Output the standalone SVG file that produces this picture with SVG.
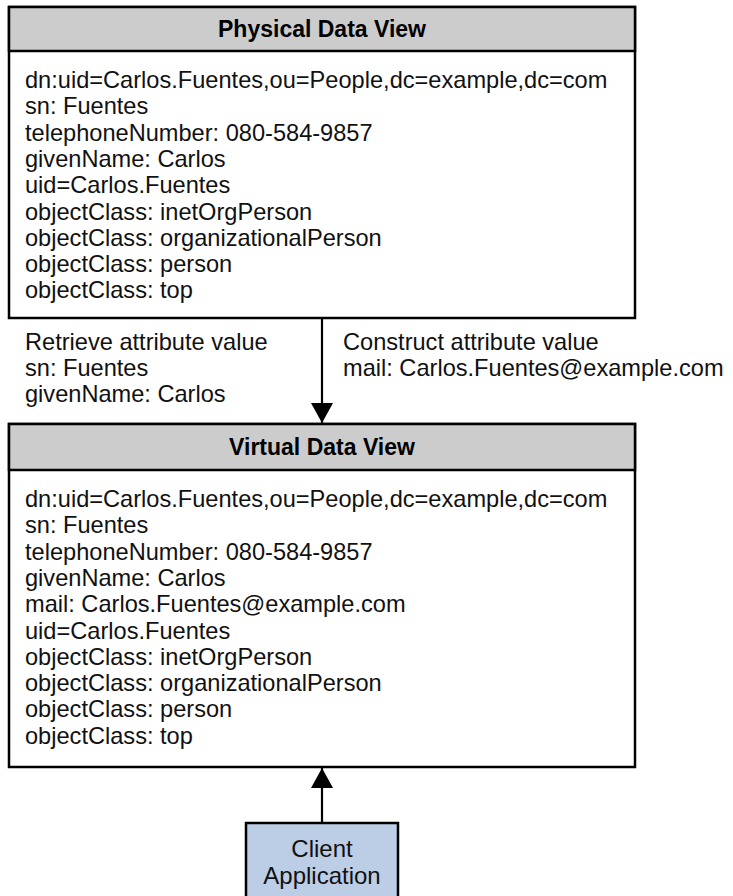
<svg xmlns="http://www.w3.org/2000/svg" width="733" height="896" viewBox="0 0 733 896">
<defs>
<style>
.box{fill:#fff;stroke:#000;stroke-width:2.5}
.hdr{fill:#cccccc;stroke:#000;stroke-width:2.5}
.client{fill:#bccde6;stroke:#000;stroke-width:2.5}
.t{font-family:"Liberation Sans",Arial,Helvetica,sans-serif;font-size:23.6px;fill:#111}
.h{font-family:"Liberation Sans",Arial,Helvetica,sans-serif;font-size:23px;font-weight:bold;fill:#000;text-anchor:middle}
.c{font-family:"Liberation Sans",Arial,Helvetica,sans-serif;font-size:24px;fill:#111;text-anchor:middle}
.conn{stroke:#000;stroke-width:2.2;fill:none}
</style>
<marker id="arr" viewBox="0 0 20 22" refX="20" refY="11" markerWidth="20" markerHeight="22" markerUnits="userSpaceOnUse" orient="auto">
<path d="M0,0 L20,11 L0,22 Z" fill="#000"/>
</marker>
</defs>
<rect width="733" height="896" fill="#fff"/>

<g id="physical">
<rect class="box" x="9" y="7" width="626" height="311"/>
<rect class="hdr" x="9" y="7" width="626" height="44"/>
<text class="h" x="322" y="37">Physical Data View</text>
<text class="t" x="25" y="88">dn:uid=Carlos.Fuentes,ou=People,dc=example,dc=com</text>
<text class="t" x="25" y="114.3">sn: Fuentes</text>
<text class="t" x="25" y="140.6">telephoneNumber: 080-584-9857</text>
<text class="t" x="25" y="166.9">givenName: Carlos</text>
<text class="t" x="25" y="193.2">uid=Carlos.Fuentes</text>
<text class="t" x="25" y="219.5">objectClass: inetOrgPerson</text>
<text class="t" x="25" y="245.8">objectClass: organizationalPerson</text>
<text class="t" x="25" y="272.1">objectClass: person</text>
<text class="t" x="25" y="298.4">objectClass: top</text>
</g>

<g id="labels">
<text class="t" x="25" y="350">Retrieve attribute value</text>
<text class="t" x="25" y="376">sn: Fuentes</text>
<text class="t" x="25" y="402">givenName: Carlos</text>
<text class="t" x="343" y="350">Construct attribute value</text>
<text class="t" x="343" y="376">mail: Carlos.Fuentes@example.com</text>
</g>

<g id="virtual">
<rect class="box" x="9" y="424" width="626" height="343"/>
<rect class="hdr" x="9" y="424" width="626" height="46"/>
<text class="h" x="322" y="455">Virtual Data View</text>
<text class="t" x="25" y="507">dn:uid=Carlos.Fuentes,ou=People,dc=example,dc=com</text>
<text class="t" x="25" y="533.3">sn: Fuentes</text>
<text class="t" x="25" y="559.6">telephoneNumber: 080-584-9857</text>
<text class="t" x="25" y="585.9">givenName: Carlos</text>
<text class="t" x="25" y="612.2">mail: Carlos.Fuentes@example.com</text>
<text class="t" x="25" y="638.5">uid=Carlos.Fuentes</text>
<text class="t" x="25" y="664.8">objectClass: inetOrgPerson</text>
<text class="t" x="25" y="691.1">objectClass: organizationalPerson</text>
<text class="t" x="25" y="717.4">objectClass: person</text>
<text class="t" x="25" y="743.7">objectClass: top</text>
</g>

<g id="client">
<rect class="client" x="246" y="823" width="152" height="80"/>
<text class="c" x="322" y="857">Client</text>
<text class="c" x="322" y="884">Application</text>
</g>

<g id="connectors">
<line class="conn" x1="322" y1="319" x2="322" y2="423" marker-end="url(#arr)"/>
<line class="conn" x1="322" y1="822" x2="322" y2="768" marker-end="url(#arr)"/>
</g>
</svg>
